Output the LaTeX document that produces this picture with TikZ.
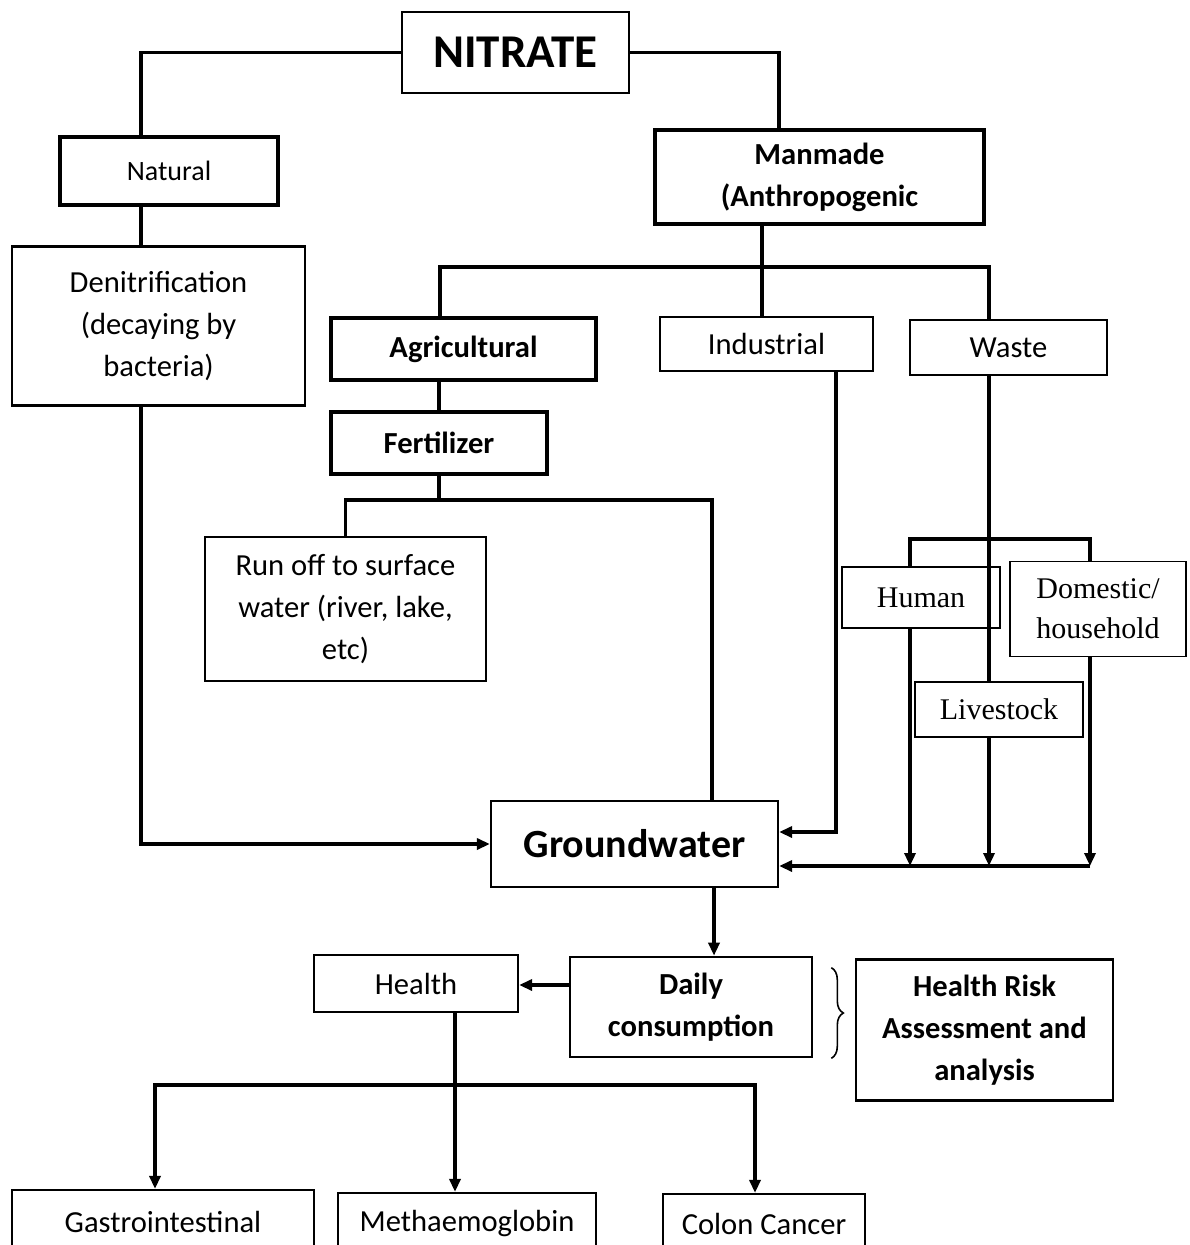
\documentclass[tikz,border=0pt]{standalone}
\usepackage{fontspec}
\setmainfont{Carlito}
\newfontfamily\timesfont{Liberation Serif}
\usetikzlibrary{arrows.meta,positioning,calc,decorations.pathreplacing}

\tikzset{
  box/.style={draw, line width=1.1pt, inner sep=0pt, align=center, font=\fontsize{15.3}{21}\selectfont},
  thickbox/.style={box, line width=1.6pt},
  boldbox/.style={thickbox, font=\fontsize{15.3}{21}\selectfont\bfseries},
  serifbox/.style={box, line width=0.8pt, font=\timesfont\fontsize{15}{20}\selectfont},
  link/.style={line width=1.8pt},
}

\begin{document}
\begin{tikzpicture}[x=0.5pt, y=-0.5pt, >={Triangle[length=6.5pt,width=5.5pt]}]
\clip (0,0) rectangle (1189,1245);
% sources
\node[box, minimum width=113.5pt, minimum height=40.5pt, font=\fontsize{23.5}{28}\selectfont\bfseries] (nitrate) at (515.5,52.5) {NITRATE};
\node[thickbox, minimum width=109pt, minimum height=34pt, font=\fontsize{14}{21}\selectfont] (natural) at (169,171) {Natural};
\node[boldbox, minimum width=164.5pt, minimum height=47pt] (manmade) at (819.5,177) {Manmade\\(Anthropogenic};
\node[box, minimum width=146.5pt, minimum height=79.5pt] (denit) at (158.5,326) {Denitrification\\(decaying by\\bacteria)};
\node[boldbox, minimum width=132.5pt, minimum height=31pt] (agri) at (463.5,349) {Agricultural};
\node[box, minimum width=106.5pt, minimum height=27pt] (indus) at (766.5,344) {Industrial};
\node[box, minimum width=98.5pt, minimum height=27.5pt] (waste) at (1008.5,347.5) {Waste};
\node[boldbox, minimum width=108pt, minimum height=31pt] (fert) at (439,443) {Fertilizer};
\node[box, minimum width=140.5pt, minimum height=72pt] (runoff) at (345.5,609) {Run off to surface\\water (river, lake,\\etc)};
% waste types
\node[serifbox, minimum width=79pt, minimum height=30.5pt] (human) at (921,597.5) {Human};
\node[serifbox, minimum width=88pt, minimum height=47.5pt] (domestic) at (1098,609) {Domestic/\\household};
\node[serifbox, minimum width=84pt, minimum height=27.5pt] (livestock) at (999,709.5) {Livestock};
\node[box, minimum width=143.5pt, minimum height=43pt, font=\fontsize{20}{24}\selectfont\bfseries] (ground) at (634.5,844) {Groundwater};
% health part
\node[box, minimum width=102pt, minimum height=28.5pt] (health) at (416,983.5) {Health};
\node[boldbox, line width=1.3pt, minimum width=121pt, minimum height=50pt] (daily) at (691,1007) {Daily\\consumption};
\node[boldbox, line width=1.3pt, minimum width=128.5pt, minimum height=70.5pt] (hra) at (984.5,1030) {Health Risk\\Assessment and\\analysis};
\node[box, minimum width=151pt, minimum height=32pt] (gastro) at (163,1222) {Gastrointestinal};
\node[box, minimum width=129pt, minimum height=30pt] (metha) at (467,1223) {Methaemoglobin};
\node[box, minimum width=101pt, minimum height=30pt] (colon) at (764,1224) {Colon Cancer};

\coordinate (split1) at (762,267);
\coordinate (split2) at (439,500);
\coordinate (collect) at (1090,866);
\coordinate (split4) at (455,1085);

\draw[link] (nitrate.west) -| ([xshift=-14pt]natural.north);
\draw[link] (nitrate.east) -| ([xshift=-20.25pt]manmade.north);
\draw[link] ([xshift=-14pt]natural.south) -- ([xshift=-14pt]natural.south |- denit.north);
\draw[link,->] ([xshift=-8.75pt]denit.south) |- (ground.west);
\draw[link] ([xshift=-28.75pt]manmade.south) -- (split1);
\draw[link] ([xshift=-11.75pt]agri.north) |- (split1) -| ([xshift=-9.75pt]waste.north);
\draw[link] (split1) -- (split1 |- indus.north);
\draw[link] (split2 |- agri.south) -- (split2 |- fert.north);
\draw[link] (fert.south) -- (split2);
\draw[link] (runoff.north) |- (split2) -| ([xshift=38.75pt]ground.north);
\draw[link,->] ([xshift=34.75pt]indus.south) |- ([yshift=6pt]ground.east);
\draw[link] ([xshift=-9.75pt]waste.south) -- ([xshift=-9.75pt]waste.south |- livestock.north);
\draw[link] ([xshift=-5.5pt]human.north) -- ++(0,-27) -| ([xshift=-4pt]domestic.north);
\draw[link,->] ([xshift=-5.5pt]human.south) -- ([xshift=-5.5pt]human.south |- collect);
\draw[link,->] ([xshift=-5pt]livestock.south) -- ([xshift=-5pt]livestock.south |- collect);
\draw[link,->] ([xshift=-4pt]domestic.south) -- (collect);
\draw[link,->] (collect) -- ([yshift=-11pt]ground.east);
\draw[link,->] ([xshift=39.75pt]ground.south) -- ([xshift=39.75pt]ground.south |- daily.north);
\draw[link,->,line width=2.4pt] ([yshift=11pt]daily.west) -- ([yshift=11pt]daily.west -| health.east);
\draw[link,->] ([xshift=19.5pt]health.south) -- ([xshift=19.5pt]health.south |- metha.north);
\draw[link,->] (split4) -| ([xshift=-4pt]gastro.north);
\draw[link,->] (split4) -| ([xshift=-4.5pt]colon.north);
\draw[line width=0.8pt, decorate, decoration={brace, amplitude=6pt}] ([xshift=9pt,yshift=-6pt]daily.north east) -- ([xshift=9pt]daily.south east);
\end{tikzpicture}
\end{document}
